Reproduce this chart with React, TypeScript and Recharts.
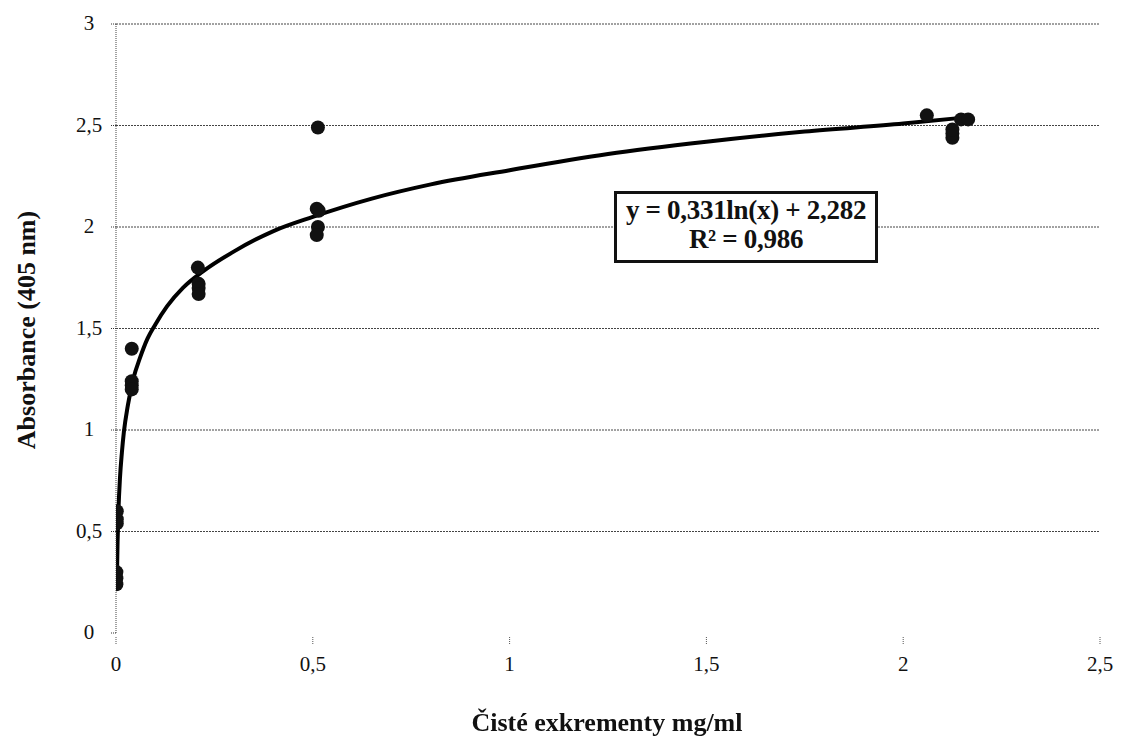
import { ComposedChart, Scatter, Line, XAxis, YAxis, ReferenceLine } from 'recharts'

// měřené body (koncentrace mg/ml, absorbance 405 nm)
const concentrations = [
  0.001, 0.001, 0.001, 0.002, 0.002, 0.002,
  0.04, 0.04, 0.04, 0.04,
  0.208, 0.21, 0.21, 0.21,
  0.513, 0.51, 0.515, 0.513, 0.51,
  2.06, 2.125, 2.125, 2.125, 2.147, 2.165,
]
const absorbances = [
  0.24, 0.27, 0.30, 0.54, 0.56, 0.60,
  1.40, 1.24, 1.22, 1.20,
  1.80, 1.72, 1.70, 1.67,
  2.49, 2.09, 2.08, 2.00, 1.96,
  2.55, 2.44, 2.46, 2.48, 2.53, 2.53,
]

// logaritmický trend
const trendX = [0.002, 0.004, 0.006, 0.01, 0.015, 0.02, 0.03, 0.045, 0.06, 0.08, 0.1, 0.13, 0.17, 0.22, 0.3, 0.4, 0.5, 0.65, 0.8, 1, 1.25, 1.5, 1.75, 2, 2.16]
const trendY = [0.23, 0.45, 0.59, 0.76, 0.89, 0.99, 1.12, 1.26, 1.35, 1.45, 1.52, 1.61, 1.70, 1.78, 1.88, 1.98, 2.05, 2.14, 2.21, 2.28, 2.36, 2.42, 2.47, 2.51, 2.54]

const xTicks = [0, 0.5, 1, 1.5, 2, 2.5]
const yTicks = [0, 0.5, 1, 1.5, 2, 2.5, 3]
const gridValues = [0.5, 1, 1.5, 2, 2.5, 3]

const points = concentrations.map((x, i) => ({ x, y: absorbances[i] }))
const trend = trendX.map((x, i) => ({ x, t: trendY[i] }))

const FONT = 'Tinos, "Times New Roman", "Liberation Serif", "DejaVu Serif", "Noto Serif", Times, serif'
const comma = (v: number) => String(v).replace('.', ',')

function YTick({ y, payload }: any) {
  return (
    <g>
      <line x1={111} x2={116} y1={y} y2={y} stroke="#333" strokeDasharray="1 1" />
      <text x={89} y={y + 6} textAnchor="middle" style={{ fontFamily: FONT }} fontSize={21} fill="#111">
        {comma(payload.value)}
      </text>
    </g>
  )
}

function XTick({ x, payload }: any) {
  return (
    <g>
      <line x1={x} x2={x} y1={637} y2={645} stroke="#555" strokeDasharray="1 1" />
      <text x={x} y={671} textAnchor="middle" style={{ fontFamily: FONT }} fontSize={21} fill="#111">
        {comma(payload.value)}
      </text>
    </g>
  )
}

function Dot({ cx, cy }: any) {
  return <circle cx={cx} cy={cy} r={7} fill="#111" />
}

export default function App() {
  return (
    <div style={{ position: 'fixed', left: 0, top: 0, width: 1121, height: 738, background: '#fff', fontFamily: FONT }}>
      <ComposedChart width={1121} height={738} margin={{ top: 24, right: 21, left: 0, bottom: 0 }}>
        <XAxis
          type="number"
          dataKey="x"
          domain={[0, 2.5]}
          ticks={xTicks}
          axisLine={false}
          tickLine={false}
          tick={<XTick />}
          height={105}
          allowDataOverflow
        />
        <YAxis
          type="number"
          domain={[0, 3]}
          ticks={yTicks}
          width={116}
          axisLine={{ stroke: '#444', strokeDasharray: '1 1' }}
          tickLine={false}
          tick={<YTick />}
        />
        {gridValues.map((v) => (
          <ReferenceLine key={v} y={v} stroke="#444" strokeDasharray="2 1" strokeWidth={1} />
        ))}
        <Line
          data={trend}
          dataKey="t"
          type="monotone"
          stroke="#000"
          strokeWidth={4}
          dot={false}
          isAnimationActive={false}
        />
        <Scatter data={points} dataKey="y" shape={<Dot />} isAnimationActive={false} />
      </ComposedChart>
      <div
        style={{
          position: 'absolute',
          left: 614,
          top: 191,
          width: 258,
          height: 64,
          border: '3px solid #111',
          background: '#fff',
          fontWeight: 'bold',
          fontSize: 27,
          lineHeight: '29px',
          textAlign: 'center',
          color: '#111',
          paddingTop: 2,
          letterSpacing: -0.3,
        }}
      >
        <div>y = 0,331ln(x) + 2,282</div>
        <div>R² = 0,986</div>
      </div>
      <div
        style={{
          position: 'absolute',
          left: 0,
          top: 708,
          width: 1214,
          textAlign: 'center',
          fontWeight: 'bold',
          fontSize: 26,
          color: '#111',
        }}
      >
        Čisté exkrementy mg/ml
      </div>
      <div
        style={{
          position: 'absolute',
          left: 27,
          top: 330,
          transform: 'translate(-50%, -50%) rotate(-90deg)',
          whiteSpace: 'nowrap',
          fontWeight: 'bold',
          fontSize: 26,
          color: '#111',
        }}
      >
        Absorbance (405 nm)
      </div>
    </div>
  )
}
